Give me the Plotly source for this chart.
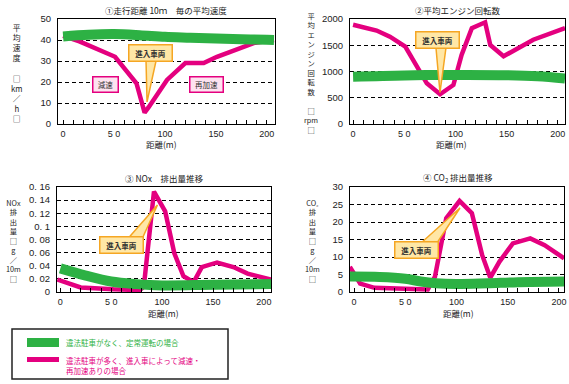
import plotly.graph_objects as go

W, H = 569, 384

# ---------------- data ----------------
# ① average speed per 10 m (km/h)
dist1_green = [0, 25, 50, 75, 100, 125, 150, 175, 200, 207]
speed_green = [41.7, 42.5, 42.8, 42.3, 41.5, 41.1, 40.7, 40.4, 40.1, 40.0]
dist1_mag = [0, 16, 51, 72, 80, 84, 102, 120, 138, 151, 187, 207]
speed_mag = [42, 39.3, 32, 19.4, 5.4, 8, 21, 29, 29, 32, 38.5, 40]

# ② average engine speed (rpm)
dist2_green = [0, 50, 100, 150, 180, 207]
rpm_green = [900, 925, 935, 930, 910, 865]
dist2_mag = [0, 23, 36, 51, 72, 85, 98, 106, 116, 129, 134, 147, 176, 207]
rpm_mag = [1890, 1780, 1663, 1473, 775, 566, 743, 1314, 1823, 1937, 1505, 1290, 1605, 1828]

# ③ NOx emission (g/10m)
dist3_green = [0, 25, 50, 75, 100, 150, 207]
nox_green = [0.036, 0.025, 0.016, 0.012, 0.010, 0.011, 0.012]
dist3_mag = [-3, 20, 52, 78, 82, 92, 103, 112, 121, 131, 139, 154, 170, 184, 207]
nox_mag = [0.019, 0.007, 0.004, 0.003, 0.008, 0.153, 0.123, 0.059, 0.024, 0.015, 0.038, 0.045, 0.038, 0.028, 0.019]

# ④ CO2 emission (g/10m)
dist4_green = [-4, 25, 50, 65, 80, 100, 130, 160, 205]
co2_green = [4.4, 4.3, 3.8, 3.0, 2.5, 2.3, 2.5, 2.8, 3.0]
dist4_mag = [-4, 6, 20, 43, 72, 79, 90, 103, 115, 125, 133, 142, 155, 172, 186, 205]
co2_mag = [7.2, 2.4, 1.2, 1.0, 0.7, 4.4, 21.1, 26.0, 22.5, 10.6, 4.1, 8.7, 13.9, 15.3, 13.4, 9.6]

x_tickvals = [0, 50, 100, 150, 200]
x_ticktext = ["0", "5 0", "100", "150", "200"]
y1_ticks = [0, 10, 20, 30, 40, 50]
y2_ticks = [0, 500, 1000, 1500, 2000]
y3_ticks = [0, 0.02, 0.04, 0.06, 0.08, 0.1, 0.12, 0.14, 0.16]
y3_text = ["0", "0. 02", "0. 04", "0. 06", "0. 08", "0. 1", "0. 12", "0. 14", "0. 16"]
y4_ticks = [0, 5, 10, 15, 20, 25, 30]

titles = ["①走行距離 10ｍ　毎の平均速度", "②平均エンジン回転数", "③ NOx　排出量推移", "④ CO<sub>2</sub> 排出量推移"]
ytitles = [
    ["平", "均", "速", "度", "　", "□", "km", "／", "h", "□"],
    ["平", "均", "エ", "ン", "ジ", "ン", "回", "転", "数", "　", "□", "rpm", "□"],
    ["NOx", "排", "出", "量", "□", "g", "／", "10m", "□"],
    ["CO₂", "排", "出", "量", "□", "g", "／", "10m", "□"],
]
legend_labels = ["違法駐車がなく、定常運転の場合", "違法駐車が多く、進入車によって減速・<br>再加速ありの場合"]

GREEN = "#2db144"
MAG = "#e4007f"
CJK = "Noto Sans CJK JP"
NUM = "Liberation Sans"


def px(x):
    return x / W


def py(y):
    return 1 - y / H


fig = go.Figure()

panels = [
    (dist1_green, speed_green, dist1_mag, speed_mag, "x", "y"),
    (dist2_green, rpm_green, dist2_mag, rpm_mag, "x2", "y2"),
    (dist3_green, nox_green, dist3_mag, nox_mag, "x3", "y3"),
    (dist4_green, co2_green, dist4_mag, co2_mag, "x4", "y4"),
]
for gx, gy, mx, my, xa, ya in panels:
    fig.add_trace(go.Scatter(x=mx, y=my, mode="lines", xaxis=xa, yaxis=ya,
                             line=dict(color=MAG, width=4.5), showlegend=False, hoverinfo="skip"))
    fig.add_trace(go.Scatter(x=gx, y=gy, mode="lines", xaxis=xa, yaxis=ya, line_shape="spline",
                             line=dict(color=GREEN, width=10), showlegend=False, hoverinfo="skip"))

# plot-area pixel boxes
boxes = {
    1: (58, 275, 19, 124),
    2: (350, 565, 19, 124),
    3: (57, 271, 187, 292),
    4: (350, 564, 187, 292),
}
xranges = {1: [-5, 208], 2: [-3, 207], 3: [-3.3, 207], 4: [-3.9, 204.9]}
yspecs = {
    1: dict(range=[0, 50], tickvals=y1_ticks),
    2: dict(range=[0, 2000], tickvals=y2_ticks),
    3: dict(range=[0, 0.16], tickvals=y3_ticks, ticktext=y3_text),
    4: dict(range=[0, 30], tickvals=y4_ticks),
}

layout = dict(width=W, height=H, margin=dict(l=0, r=0, t=0, b=0, autoexpand=False),
              paper_bgcolor="white", plot_bgcolor="white", showlegend=False)
for i in range(1, 5):
    x0, x1, y0, y1 = boxes[i]
    sfx = "" if i == 1 else str(i)
    layout["xaxis" + sfx] = dict(
        domain=[px(x0), px(x1)], range=xranges[i], anchor="y" + sfx, automargin=False,
        tickvals=x_tickvals, ticktext=x_ticktext, ticks="inside", ticklen=4, tickcolor="black",
        minor=dict(dtick=10, tick0=0, ticks="inside", ticklen=4, tickcolor="black", showgrid=False),
        showgrid=False, zeroline=False, showline=True, linecolor="black", linewidth=1, mirror=True,
        tickfont=dict(family=NUM, size=9, color="#222"), ticklabelstandoff=1, fixedrange=True)
    ys = yspecs[i]
    layout["yaxis" + sfx] = dict(
        domain=[py(y1), py(y0)], anchor="x" + sfx, ticks="", showgrid=True, automargin=False,
        gridcolor="black", gridwidth=1.2, griddash="4px,3px", zeroline=False,
        showline=True, linecolor="black", linewidth=1, mirror=True,
        tickfont=dict(family=NUM, size=9.5, color="#222"), ticklabelstandoff=4, fixedrange=True, **ys)
fig.update_layout(**layout)

ann = []
shapes = []


def pann(text, x, y, size, color="#222", xanchor="center", align="center"):
    return dict(text=text, x=px(x), y=py(y), xref="paper", yref="paper", showarrow=False,
                xanchor=xanchor, yanchor="middle", align=align,
                font=dict(family=CJK, size=size, color=color))


# titles
title_pos = [(166, 10), (458, 10), (164, 178), (458, 178)]
for t, (x, y) in zip(titles, title_pos):
    ann.append(pann(t, x, y, 8.5))
# x-axis titles
for x, y in [(161, 144), (451, 144), (164, 313), (458, 313)]:
    ann.append(pann("距離(m)", x, y, 8.5))

# vertical y titles: (x centre px, top px, bottom px, font size)
vt_pos = [(17, 27, 118, 7.8), (311, 16, 130, 7.3), (13, 198, 283, 7.3), (312, 198, 284, 7.3)]
for chars, (x, ytop, ybot, fs) in zip(ytitles, vt_pos):
    ann.append(pann("<br>".join(chars), x, (ytop + ybot) / 2, fs))

# "進入車両" callouts (box centre, wedge base points, wedge tip) in data coords
callouts = [
    ("x", "y", (85.8, 33.6), [(81.4, 30.0), (91.2, 30.0)], (82.4, 10.5)),
    ("x2", "y2", (82.4, 1591), [(81.0, 1448), (90.7, 1448)], (84.9, 600)),
    ("x3", "y3", (60.5, 0.0716), [(66.9, 0.0823), (80.7, 0.0823)], (95.4, 0.1326)),
    ("x4", "y4", (61.0, 12.0), [(65.4, 14.0), (81.0, 14.0)], (103.4, 24.0)),
]
YEL = "#ffe7a6"
ORG = "#f5a623"
for xr, yr, (cx, cy), base, tip in callouts:
    path = f"M {base[0][0]},{base[0][1]} L {tip[0]},{tip[1]} L {base[1][0]},{base[1][1]} Z"
    shapes.append(dict(type="path", path=path, xref=xr, yref=yr, fillcolor=YEL,
                       line=dict(color=ORG, width=1.5), layer="above"))
    ann.append(dict(text="<b>進入車両</b>", x=cx, y=cy, xref=xr, yref=yr, showarrow=False,
                    xanchor="center", yanchor="middle",
                    width=40, height=13, borderpad=1, bgcolor=YEL, bordercolor=ORG, borderwidth=1.5,
                    font=dict(family=CJK, size=7.5, color="#333")))

# 減速 / 再加速 labels on chart 1
for text, cx, w in [("減速", 41.2, 22), ("再加速", 140.7, 30)]:
    ann.append(dict(text=text, x=cx, y=18.6, xref="x", yref="y", showarrow=False,
                    xanchor="center", yanchor="middle",
                    width=w, height=12, borderpad=1, bgcolor="#fde3f0", bordercolor=MAG, borderwidth=1.5,
                    font=dict(family=CJK, size=7.5, color="#333")))

# legend box
shapes.append(dict(type="rect", xref="paper", yref="paper", x0=px(12), x1=px(228), y0=py(379), y1=py(329),
                   line=dict(color="#222", width=1.5), fillcolor="rgba(0,0,0,0)"))
shapes.append(dict(type="rect", xref="paper", yref="paper", x0=px(27), x1=px(59), y0=py(347), y1=py(338),
                   line=dict(width=0), fillcolor=GREEN))
shapes.append(dict(type="rect", xref="paper", yref="paper", x0=px(27), x1=px(59), y0=py(362), y1=py(357),
                   line=dict(width=0), fillcolor=MAG))
ann.append(pann(legend_labels[0], 64, 342, 7.5, GREEN, xanchor="left", align="left"))
ann.append(pann(legend_labels[1], 64, 365.5, 7.5, MAG, xanchor="left", align="left"))

fig.update_layout(annotations=ann, shapes=shapes)
fig.write_html("out.html", config={"displayModeBar": False},
               post_script="document.body.style.margin='0';document.body.style.overflow='hidden';")
